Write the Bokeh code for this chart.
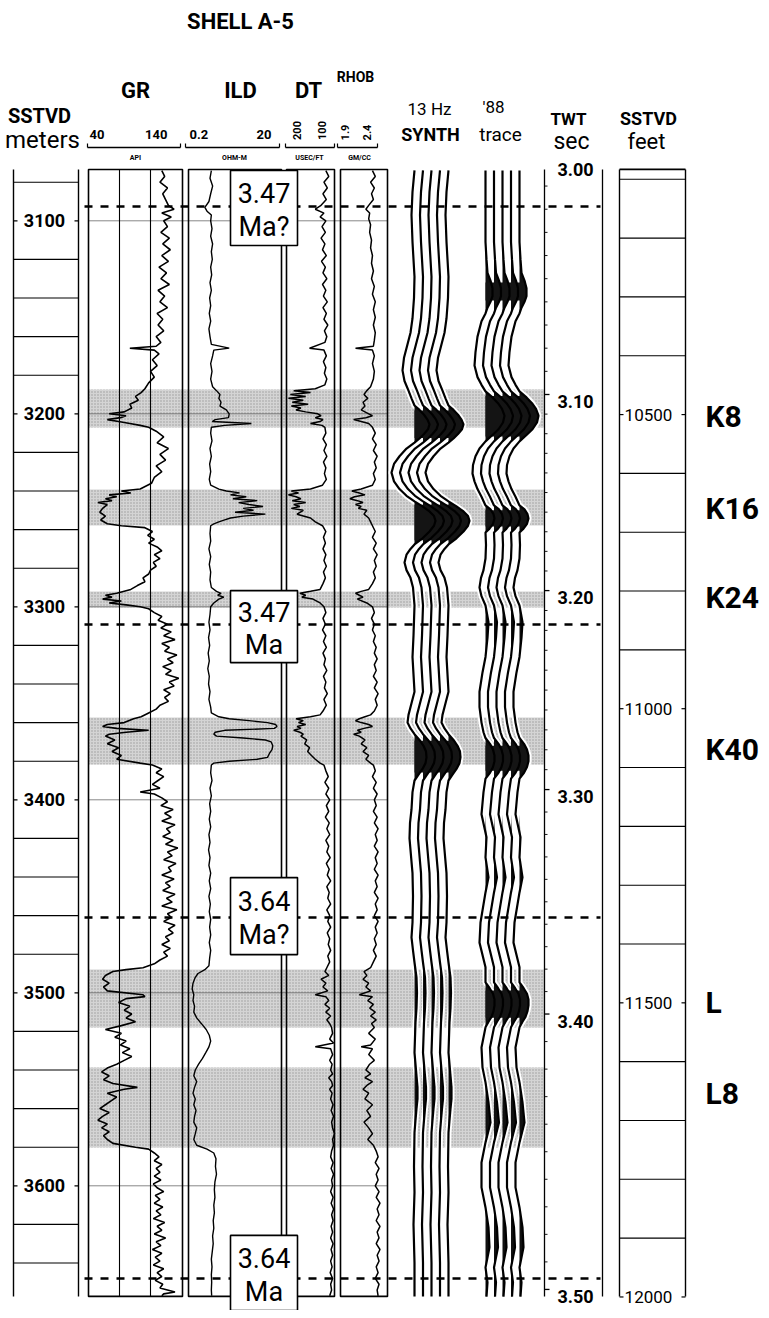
import numpy as np
from bokeh.plotting import figure
from bokeh.models import Range1d
from bokeh.core.properties import value
from bokeh.embed import file_html
from bokeh.resources import INLINE

# ---------------------------------------------------------------- data
GR_LOG = [
    (3074,118),(3077,121),(3080,116),(3083,124),(3086,119),(3089,122),(3092,125),(3094,131),(3096,118),(3098,128),
    (3100,120),(3103,124),(3106,117),(3109,126),(3112,119),(3115,127),(3118,118),(3121,125),(3124,115),(3127,123),
    (3130,117),(3133,126),(3136,114),(3139,121),(3142,116),(3145,124),(3148,113),(3151,119),(3154,114),(3157,120),
    (3160,112),(3163,117),(3165,112),(3166,84),(3167,110),(3169,115),(3172,108),(3175,113),(3178,106),(3181,110),
    (3184,104),(3187,100),(3189,96),(3191,90),(3193,93),(3195,84),(3197,86),(3199,78),(3200,62),(3201,80),
    (3202,74),(3203,60),(3204,72),(3205,84),(3206,95),(3207,104),(3209,112),(3212,120),(3215,113),(3218,125),
    (3221,116),(3224,122),(3227,112),(3230,118),(3233,110),(3236,107),(3239,95),(3240,75),(3241,85),(3242,62),
    (3243,70),(3244,58),(3245,65),(3246,50),(3247,60),(3249,55),(3251,52),(3253,58),(3255,53),(3257,60),
    (3258,75),(3259,100),(3261,108),(3263,103),(3265,110),(3267,104),(3269,113),(3271,118),(3273,110),(3275,116),
    (3277,109),(3279,112),(3281,106),(3283,104),(3285,98),(3287,100),(3289,92),(3291,85),(3293,70),(3294,58),
    (3295,65),(3296,55),(3297,75),(3298,62),(3299,80),(3300,95),(3301,104),(3303,110),(3305,118),(3307,114),
    (3309,124),(3311,117),(3313,128),(3315,120),(3317,132),(3319,118),(3321,126),(3323,121),(3325,134),(3327,124),
    (3329,130),(3331,119),(3333,128),(3335,122),(3337,136),(3339,126),(3341,131),(3343,120),(3345,127),(3347,121),
    (3349,125),(3351,116),(3353,112),(3355,104),(3357,96),(3358,88),(3360,78),(3361,60),(3362,55),(3363,70),
    (3364,104),(3365,80),(3366,62),(3367,58),(3369,68),(3371,60),(3373,72),(3375,65),(3377,75),(3379,70),
    (3381,95),(3382,108),(3384,118),(3386,112),(3388,120),(3390,114),(3392,108),(3394,116),(3396,95),(3397,110),
    (3399,118),(3401,124),(3403,117),(3405,130),(3407,121),(3409,128),(3411,118),(3413,132),(3415,123),(3417,127),
    (3419,119),(3421,130),(3423,122),(3425,135),(3427,124),(3429,129),(3431,120),(3433,133),(3435,125),(3437,128),
    (3439,118),(3441,131),(3443,122),(3445,127),(3447,119),(3449,132),(3451,123),(3453,129),(3455,118),(3457,134),
    (3459,124),(3461,128),(3463,120),(3465,132),(3467,125),(3469,130),(3471,122),(3473,126),(3475,118),(3477,127),
    (3479,120),(3481,124),(3483,116),(3485,110),(3487,98),(3488,80),(3489,66),(3491,58),(3493,55),(3495,62),
    (3497,56),(3499,60),(3501,98),(3502,100),(3503,80),(3505,72),(3507,84),(3509,78),(3511,86),(3513,80),
    (3515,90),(3517,75),(3519,58),(3521,75),(3523,68),(3525,80),(3527,74),(3529,84),(3531,76),(3533,86),
    (3535,78),(3537,70),(3539,60),(3541,54),(3543,62),(3545,56),(3547,66),(3549,92),(3550,78),(3552,60),
    (3554,70),(3556,64),(3558,58),(3560,52),(3562,62),(3564,55),(3566,50),(3568,60),(3570,54),(3572,62),
    (3574,56),(3576,60),(3578,66),(3580,90),(3581,104),(3583,110),(3585,115),(3587,110),(3589,118),(3591,112),
    (3593,116),(3595,110),(3597,117),(3599,109),(3601,113),(3603,120),(3605,111),(3607,116),(3609,110),(3611,119),
    (3613,112),(3615,117),(3617,109),(3619,121),(3621,113),(3623,118),(3625,110),(3627,122),(3629,112),(3631,117),
    (3633,108),(3635,118),(3637,111),(3639,116),(3641,109),(3643,120),(3645,113),(3647,118),(3649,111),(3651,119),
    (3653,116),(3655,132),(3656,120),(3657,118)]

ILD_LOG = [
    (3074,0.62),(3078,0.58),(3082,0.66),(3086,0.6),(3090,0.55),(3093,0.45),(3095,0.5),(3097,0.62),(3100,0.6),(3104,0.64),
    (3108,0.6),(3112,0.66),(3116,0.62),(3120,0.65),(3124,0.6),(3128,0.63),(3132,0.58),(3136,0.62),(3140,0.57),(3144,0.6),
    (3148,0.56),(3152,0.6),(3156,0.55),(3160,0.58),(3164,0.62),(3166,1.5),(3167,0.7),(3170,0.66),(3174,0.6),(3178,0.64),
    (3182,0.6),(3186,0.66),(3188,0.8),(3190,0.95),(3192,0.9),(3194,1.0),(3196,0.95),(3198,1.3),(3200,1.5),(3202,1.45),
    (3203,0.75),(3204,0.65),(3205,4.5),(3206,1.2),(3207,0.62),(3210,0.6),(3214,0.64),(3218,0.58),(3222,0.62),(3226,0.57),
    (3230,0.6),(3234,0.56),(3237,0.6),(3239,0.9),(3240,1.3),(3241,2.5),(3242,1.6),(3243,3.5),(3244,1.8),(3245,6),
    (3246,2.4),(3247,4),(3248,8),(3249,3),(3250,5),(3251,2),(3252,9),(3253,3),(3254,1.6),(3255,1.2),
    (3256,0.9),(3257,0.7),(3258,0.6),(3262,0.58),(3266,0.6),(3270,0.55),(3274,0.6),(3278,0.56),(3282,0.6),(3286,0.58),
    (3290,0.62),(3292,0.8),(3293,1.0),(3294,0.85),(3295,1.15),(3296,0.9),(3298,0.7),(3300,0.6),(3304,0.58),(3308,0.55),
    (3312,0.58),(3316,0.54),(3320,0.57),(3324,0.53),(3328,0.56),(3332,0.52),(3336,0.56),(3340,0.54),(3344,0.58),(3348,0.55),
    (3352,0.6),(3355,0.62),(3357,0.9),(3358,1.5),(3359,4),(3360,10),(3361,15),(3362,16),(3363,14),(3364,1.2),
    (3365,0.75),(3366,0.7),(3367,0.8),(3368,3),(3369,9),(3370,12),(3372,13),(3374,12.5),(3376,11),(3378,10),
    (3379,6),(3380,1.5),(3381,0.7),(3382,0.62),(3386,0.6),(3390,0.64),(3394,0.58),(3398,0.62),(3402,0.57),(3406,0.6),
    (3410,0.56),(3414,0.6),(3418,0.55),(3422,0.58),(3426,0.54),(3430,0.58),(3434,0.55),(3438,0.6),(3442,0.56),(3446,0.6),
    (3450,0.55),(3454,0.59),(3458,0.56),(3462,0.6),(3466,0.57),(3470,0.6),(3474,0.56),(3478,0.6),(3482,0.57),(3486,0.55),
    (3488,0.45),(3490,0.32),(3492,0.28),(3495,0.25),(3498,0.24),(3501,0.26),(3504,0.25),(3507,0.27),(3510,0.26),(3513,0.3),
    (3516,0.38),(3519,0.48),(3522,0.56),(3525,0.6),(3528,0.55),(3531,0.47),(3534,0.4),(3537,0.33),(3540,0.28),(3543,0.26),
    (3546,0.3),(3549,0.27),(3552,0.25),(3555,0.28),(3558,0.26),(3561,0.29),(3564,0.27),(3567,0.26),(3570,0.3),(3573,0.28),
    (3576,0.26),(3579,0.3),(3581,0.5),(3583,0.7),(3586,0.78),(3590,0.76),(3594,0.8),(3598,0.74),(3602,0.72),(3606,0.74),
    (3610,0.7),(3614,0.72),(3618,0.68),(3622,0.7),(3626,0.66),(3630,0.68),(3634,0.65),(3638,0.62),(3642,0.64),(3646,0.62),
    (3650,0.63),(3654,0.62),(3657,0.63)]

DT_LOG = [
    (3074,118),(3077,112),(3080,122),(3083,115),(3086,124),(3089,117),(3092,128),(3094,140),(3096,122),(3098,130),
    (3100,118),(3103,126),(3106,119),(3109,128),(3112,120),(3115,125),(3118,117),(3121,127),(3124,119),(3127,124),
    (3130,116),(3133,125),(3136,118),(3139,123),(3142,115),(3145,124),(3148,117),(3151,122),(3154,114),(3157,121),
    (3160,116),(3163,120),(3166,152),(3167,122),(3170,117),(3173,123),(3176,118),(3179,121),(3182,116),(3185,120),
    (3187,140),(3188,185),(3189,150),(3190,192),(3191,160),(3192,196),(3193,165),(3194,188),(3195,155),(3196,190),
    (3197,170),(3198,180),(3199,160),(3200,135),(3201,128),(3202,140),(3203,124),(3204,130),(3205,150),(3206,126),
    (3207,120),(3210,118),(3213,124),(3216,117),(3219,122),(3222,116),(3225,123),(3228,118),(3231,121),(3234,117),
    (3237,125),(3239,150),(3240,190),(3241,175),(3242,196),(3243,180),(3244,170),(3245,188),(3246,160),(3247,185),
    (3248,172),(3249,190),(3250,165),(3252,178),(3254,150),(3256,140),(3258,125),(3261,118),(3264,123),(3267,119),
    (3270,124),(3273,118),(3276,122),(3279,117),(3282,123),(3285,119),(3288,124),(3291,130),(3292,150),(3293,172),
    (3294,160),(3295,168),(3296,145),(3298,130),(3300,122),(3303,118),(3306,124),(3309,119),(3312,125),(3315,118),
    (3318,123),(3321,117),(3324,124),(3327,119),(3330,122),(3333,116),(3336,123),(3339,118),(3342,121),(3345,115),
    (3348,122),(3351,117),(3354,124),(3356,130),(3357,150),(3358,180),(3359,165),(3360,175),(3361,160),(3362,178),
    (3363,170),(3364,185),(3365,172),(3366,165),(3367,170),(3369,158),(3371,162),(3373,152),(3375,156),(3377,148),
    (3379,140),(3381,130),(3382,122),(3385,118),(3388,113),(3391,120),(3394,112),(3397,118),(3400,110),(3403,117),
    (3406,112),(3409,119),(3412,111),(3415,116),(3418,110),(3421,118),(3424,112),(3427,116),(3430,109),(3433,117),
    (3436,111),(3439,115),(3442,108),(3445,116),(3448,111),(3451,114),(3454,108),(3457,116),(3460,110),(3463,114),
    (3466,108),(3469,115),(3472,110),(3475,113),(3478,108),(3481,114),(3484,110),(3487,116),(3489,120),(3491,112),
    (3493,128),(3495,118),(3497,124),(3499,114),(3501,140),(3502,118),(3504,112),(3506,120),(3508,110),(3510,118),
    (3512,108),(3514,116),(3516,110),(3518,106),(3521,104),(3524,110),(3526,102),(3528,140),(3529,108),(3532,104),
    (3535,110),(3537,105),(3540,108),(3542,104),(3544,112),(3546,106),(3548,104),(3550,110),(3552,105),(3555,108),
    (3558,103),(3561,107),(3564,102),(3567,106),(3570,104),(3573,100),(3576,104),(3579,102),(3582,106),(3585,108),
    (3588,103),(3591,107),(3594,102),(3597,106),(3600,104),(3603,108),(3606,103),(3609,107),(3612,102),(3615,106),
    (3618,103),(3621,107),(3624,104),(3627,108),(3630,103),(3633,107),(3636,104),(3639,108),(3642,105),(3645,109),
    (3648,104),(3651,108),(3654,106),(3657,110)]

RHOB_LOG = [
    (3074,2.24),(3077,2.27),(3080,2.22),(3083,2.26),(3086,2.23),(3089,2.25),(3092,2.2),(3094,2.17),(3096,2.21),(3099,2.2),
    (3102,2.22),(3106,2.21),(3110,2.23),(3114,2.22),(3118,2.24),(3122,2.23),(3126,2.25),(3130,2.23),(3134,2.26),(3138,2.24),
    (3142,2.27),(3146,2.25),(3150,2.27),(3154,2.25),(3158,2.27),(3162,2.26),(3165,2.25),(3166,2.06),(3167,2.24),(3170,2.26),
    (3174,2.24),(3178,2.26),(3182,2.25),(3186,2.22),(3188,2.18),(3190,2.15),(3192,2.19),(3194,2.14),(3196,2.16),(3198,2.12),
    (3200,2.2),(3201,2.24),(3202,2.17),(3203,2.04),(3204,2.12),(3205,2.2),(3207,2.24),(3210,2.27),(3213,2.24),(3216,2.28),
    (3219,2.25),(3222,2.29),(3225,2.26),(3228,2.28),(3231,2.25),(3234,2.27),(3237,2.24),(3239,2.12),(3240,2.02),(3241,2.1),
    (3242,2.16),(3243,2.05),(3244,2.0),(3245,2.08),(3246,2.14),(3247,2.06),(3248,2.12),(3249,2.09),(3250,2.18),(3252,2.15),
    (3254,2.2),(3256,2.22),(3258,2.24),(3261,2.27),(3264,2.24),(3267,2.28),(3270,2.25),(3273,2.29),(3276,2.26),(3279,2.28),
    (3282,2.25),(3285,2.27),(3288,2.24),(3291,2.2),(3292,2.12),(3293,2.06),(3294,2.1),(3295,2.14),(3296,2.08),(3298,2.18),
    (3300,2.24),(3303,2.26),(3306,2.23),(3309,2.26),(3312,2.24),(3315,2.27),(3318,2.25),(3321,2.28),(3324,2.26),(3327,2.29),
    (3330,2.26),(3333,2.28),(3336,2.25),(3339,2.29),(3342,2.26),(3345,2.3),(3348,2.27),(3351,2.29),(3354,2.26),(3356,2.22),
    (3357,2.16),(3358,2.1),(3359,2.06),(3360,2.12),(3361,2.2),(3362,2.24),(3363,2.15),(3364,2.08),(3365,2.12),(3366,2.04),
    (3367,2.1),(3369,2.16),(3371,2.12),(3373,2.18),(3375,2.14),(3377,2.2),(3379,2.17),(3381,2.22),(3382,2.25),(3385,2.27),
    (3388,2.24),(3391,2.28),(3394,2.25),(3397,2.29),(3400,2.26),(3403,2.28),(3406,2.25),(3409,2.29),(3412,2.26),(3415,2.3),
    (3418,2.27),(3421,2.29),(3424,2.26),(3427,2.3),(3430,2.27),(3433,2.29),(3436,2.26),(3439,2.3),(3442,2.27),(3445,2.29),
    (3448,2.26),(3451,2.3),(3454,2.27),(3457,2.29),(3460,2.26),(3463,2.3),(3466,2.27),(3469,2.29),(3472,2.26),(3475,2.28),
    (3478,2.25),(3481,2.28),(3484,2.25),(3487,2.22),(3489,2.15),(3491,2.18),(3493,2.14),(3495,2.2),(3497,2.17),(3499,2.22),
    (3501,2.1),(3502,2.24),(3504,2.19),(3506,2.25),(3508,2.21),(3510,2.27),(3512,2.22),(3514,2.28),(3516,2.23),(3518,2.26),
    (3521,2.2),(3524,2.27),(3527,2.22),(3528,2.12),(3529,2.24),(3532,2.2),(3535,2.26),(3537,2.21),(3540,2.17),(3542,2.22),
    (3544,2.16),(3546,2.24),(3548,2.18),(3550,2.14),(3552,2.2),(3555,2.16),(3558,2.24),(3561,2.18),(3564,2.22),(3567,2.15),
    (3570,2.2),(3573,2.24),(3576,2.19),(3579,2.25),(3582,2.28),(3585,2.3),(3588,2.27),(3591,2.31),(3594,2.28),(3597,2.3),
    (3600,2.27),(3603,2.31),(3606,2.28),(3609,2.32),(3612,2.29),(3615,2.31),(3618,2.28),(3621,2.32),(3624,2.29),(3627,2.31),
    (3630,2.28),(3633,2.32),(3636,2.29),(3639,2.31),(3642,2.28),(3645,2.3),(3648,2.27),(3651,2.31),(3654,2.29),(3657,2.3)]

# 13 Hz synthetic trace: depth (m) and deflection (px of trace spacing)
SYN_DEPTH = [3073.9, 3085, 3097, 3111, 3129, 3140, 3150.6, 3158, 3165, 3171, 3177.5, 3183, 3188, 3192, 3195.7,
             3198, 3200.5, 3203, 3205.5, 3208, 3210.5, 3212.8, 3214.9,
             3218, 3222, 3226, 3230.5, 3235, 3239, 3242.5, 3245.4,
             3248, 3250.6, 3253, 3255.5, 3258, 3261, 3264.5, 3267.7,
             3270, 3273, 3277, 3281, 3285, 3290, 3299.3, 3315, 3326, 3335, 3344, 3350, 3356, 3360, 3363, 3366,
             3369, 3372, 3375, 3378, 3381, 3384, 3387, 3390,
             3396, 3405, 3412, 3420, 3426, 3432, 3438, 3450, 3463.6, 3471.3, 3478, 3484.3, 3492, 3500, 3508,
             3515.4, 3523, 3531, 3540, 3549, 3555, 3560, 3566, 3572.4, 3590, 3603.5, 3620, 3640, 3657.4]
SYN_AMP = [0, -2, -3, -2, 0, -0.5, -2, -4, -7.5, -10.5, -12, -10, -6, -3, 0,
           5, 9.5, 13, 15, 13.5, 9.5, 5, 0,
           -8, -15, -20.5, -23, -20.5, -15, -8, 0,
           8, 15, 19.5, 21, 19.5, 15, 8, 0,
           -4, -8, -10, -8, -4, -1.5, 0, -1, -2, -1, 0, -3, -6, -7, -4, 0,
           5, 9, 11.5, 12, 11, 8, 4, 0,
           -2, -3, -4.5, -5, -4, -3, -2, -1.5, -2, -3, -1.5, 0, 2, 2.5, 2,
           1, 0.5, 0, 1.5, 3, 3, 2, 1, 0, -0.5, 0, -1, 0, 0]

# '88 seismic trace
TRC_DEPTH = [3074, 3097, 3111, 3120, 3127, 3131, 3135, 3139, 3142, 3145, 3148, 3152, 3160, 3168, 3175, 3181, 3185, 3188.4,
             3191.5, 3194.5, 3197.5, 3201, 3204.5, 3208, 3211, 3214.3,
             3218, 3222, 3226.5, 3231, 3235, 3239, 3243, 3247.5,
             3249.5, 3252, 3254.2, 3257, 3259.5, 3261.5, 3268, 3275,
             3281, 3285, 3290, 3294.5, 3299.3, 3308, 3316, 3326, 3334, 3344, 3352, 3360, 3365, 3368,
             3371, 3374, 3377, 3380, 3383, 3386, 3389,
             3396, 3407.5, 3419.4, 3429.8, 3440.2, 3448, 3463.6, 3474, 3486.8,
             3494.6, 3497.5, 3500.5, 3503.5, 3506.5, 3509.5, 3512.5, 3515, 3517.9,
             3528.3, 3538.7, 3546.4, 3556.8, 3567.2, 3577.5, 3587.9, 3600.8, 3611.2, 3621.5, 3631.9, 3642.3, 3650, 3657.4]
TRC_AMP = [0, 0, 0, 1, 2, 5, 7, 7, 5, 2, 0, -4, -8, -10, -11, -8, -4, 0,
           7, 12.5, 16.5, 19, 17.5, 13, 7, 0,
           -6, -10, -12.5, -13, -11, -8, -4, 0,
           5, 8, 9, 7.5, 4, 0, 0.5, 0,
           -2, -4.5, -6, -4, 0, 3, 2, 0, -3, -6, -6, -4, -2, 0,
           4.5, 7.5, 9, 9, 7.5, 4.5, 0,
           -2, -4, 1, 0, 3, 0, -5, -6, 0,
           0, 4, 7.5, 9, 9, 8, 6, 3, 0,
           -4, -3, 0, 3, 5, 0, -4, -4, 0, 3, 4, 0, 2, 1]

# shaded sand intervals (m) and horizon names
BAND_TOP = [3187.4, 3239.2, 3292.1, 3357.4, 3487.9, 3538.7]
BAND_BOT = [3207.1, 3257.9, 3300.4, 3381.7, 3518.0, 3580.2]
HORIZON_NAMES = ["K8", "K16", "K24", "K40", "L", "L8"]
HORIZON_DEPTH = [3201.5, 3249.0, 3295.0, 3374.0, 3505.0, 3552.0]

# age picks
MA_DEPTH = [3092.6, 3309.2, 3461.0, 3648.0]
MA_AGE = ["3.47", "3.47", "3.64", "3.64"]
MA_UNIT = ["Ma?", "Ma", "Ma?", "Ma"]

# time-depth ticks
TWT_SEC = [3.00, 3.10, 3.20, 3.30, 3.40, 3.50]
TWT_DEPTH = [3070.0, 3190.0, 3291.6, 3394.7, 3511.0, 3653.7]

METER_LABELS = [3100, 3200, 3300, 3400, 3500, 3600]
FEET_LABELS = [10500, 11000, 11500, 12000]

# ---------------------------------------------------------------- layout
PAGE_W, PAGE_H = 769, 1318
PX_PER_M = 1.93
Y3100 = 228.3
D_TOP = 3100 - (Y3100 - 8) / PX_PER_M
D_BOT = 3100 + (PAGE_H - Y3100) / PX_PER_M
TRACK_TOP, TRACK_BOT = 3073.4, 3657.3

FONT = value("Roboto")

p = figure(width=761, height=1310, x_range=Range1d(8, PAGE_W), y_range=Range1d(D_BOT, D_TOP),
           x_axis_type=None, y_axis_type=None, toolbar_location=None, output_backend="svg",
           min_border=0)
p.outline_line_color = None
p.background_fill_color = "white"


def track_range(v0, v1, a, b):
    k = (v1 - v0) / (b - a)
    return Range1d(start=v0 - (a - 8) * k, end=v0 + (PAGE_W - a) * k)


SYN_BASE, TRC_BASE, TR_SP = 422, 493, 8.5
p.extra_x_ranges = {
    "gr": track_range(40, 140, 96, 190),
    "ild": track_range(np.log10(0.2), np.log10(20), 196, 289),
    "dt": track_range(200, 100, 294, 342),
    "rhob": track_range(1.9, 2.4, 348, 395),
    "syn": track_range(0, 1, SYN_BASE, SYN_BASE + 1),
    "trc": track_range(0, 1, TRC_BASE, TRC_BASE + 1),
}
p.extra_y_ranges = {"page": Range1d(PAGE_H, 8)}

# sand bands
p.quad(left=96, right=552, top=BAND_TOP, bottom=BAND_BOT, fill_color="#d4d4d4", line_color=None,
       hatch_pattern="dot", hatch_color="#9a9a9a", hatch_scale=3, hatch_weight=0.7)

# 100 m grid lines across the log tracks
p.segment(x0=96, x1=395, y0=METER_LABELS, y1=METER_LABELS, line_color="#555555", line_width=0.7)

# log track boxes
p.quad(left=[96, 196, 294, 348], right=[190, 289, 342, 395], top=TRACK_TOP, bottom=TRACK_BOT,
       fill_color=None, line_color="black", line_width=1.6)
p.segment(x0=[127, 158], x1=[127, 158], y0=TRACK_TOP, y1=TRACK_BOT, line_color="black", line_width=1.1)

# curves
gd, gv = zip(*GR_LOG)
p.line(x=list(gv), y=list(gd), x_range_name="gr", line_color="black", line_width=1.6)
idp, iv = zip(*ILD_LOG)
p.line(x=list(np.log10(iv)), y=list(idp), x_range_name="ild", line_color="black", line_width=1.4)
dd, dv = zip(*DT_LOG)
p.line(x=list(dv), y=list(dd), x_range_name="dt", line_color="black", line_width=1.5)
rd, rv = zip(*RHOB_LOG)
p.line(x=list(rv), y=list(rd), x_range_name="rhob", line_color="black", line_width=1.5)

# depth column (meters)
meter_lines = [d for d in range(3080, 3660, 20) if d % 100 != 0]
p.segment(x0=[21, 86], x1=[21, 86], y0=TRACK_TOP, y1=TRACK_BOT, line_color="black", line_width=1.4)
p.segment(x0=21, x1=86, y0=meter_lines, y1=meter_lines, line_color="black", line_width=1.1)
p.segment(x0=21, x1=25, y0=METER_LABELS, y1=METER_LABELS, line_color="black", line_width=1.2)
p.segment(x0=82, x1=86, y0=METER_LABELS, y1=METER_LABELS, line_color="black", line_width=1.2)
p.text(x=52, y=METER_LABELS, text=[str(m) for m in METER_LABELS], text_font=FONT,
       text_font_size="18px", text_font_style="bold", text_align="center", text_baseline="middle")

# TWT column with minor ticks every 0.01 s along the time-depth relation
p.segment(x0=[552, 610], x1=[552, 610], y0=TRACK_TOP, y1=TRACK_BOT, line_color="black", line_width=1.3)
minor_t = [t for t in np.arange(3.01, 3.50, 0.01) if abs(round(t * 10) - t * 10) > 1e-6]
minor_d = list(np.interp(minor_t, TWT_SEC, TWT_DEPTH))
p.segment(x0=552, x1=555, y0=minor_d, y1=minor_d, line_color="black", line_width=0.9)
p.segment(x0=552, x1=557, y0=TWT_DEPTH[1:], y1=TWT_DEPTH[1:], line_color="black", line_width=1.3)
p.text(x=583, y=TWT_DEPTH, text=["%.2f" % t for t in TWT_SEC], text_font=FONT, text_font_size="18px",
       text_font_style="bold", text_align="center", text_baseline="middle", y_offset=7)

# feet column
feet_lines = [f * 0.3048 for f in range(10100, 12000, 100) if f % 500 != 0]
feet_lab_m = [f * 0.3048 for f in FEET_LABELS]
p.segment(x0=[627, 693], x1=[627, 693], y0=TRACK_TOP, y1=TRACK_BOT, line_color="black", line_width=1.4)
p.segment(x0=627, x1=693, y0=TRACK_TOP, y1=TRACK_TOP, line_color="black", line_width=1.8)
p.segment(x0=627, x1=693, y0=feet_lines, y1=feet_lines, line_color="black", line_width=1.1)
p.segment(x0=627, x1=631, y0=feet_lab_m, y1=feet_lab_m, line_color="black", line_width=1.2)
p.segment(x0=689, x1=693, y0=feet_lab_m, y1=feet_lab_m, line_color="black", line_width=1.2)
p.text(x=656, y=feet_lab_m, text=[str(f) for f in FEET_LABELS], text_font=FONT, text_font_size="17px",
       text_align="center", text_baseline="middle")


# seismic wiggle traces (variable area)
def lobe_outline(dep, amp, thr, width):
    """Outline of the merged black lobes where the deflection exceeds thr."""
    xs, ys = [], []
    for k in range(len(dep)):
        on = amp[k] > thr
        xs.append(width + amp[k] if on else 0.0)
        ys.append(dep[k])
        if k + 1 < len(dep) and on != (amp[k + 1] > thr):
            dc = dep[k] + (thr - amp[k]) * (dep[k + 1] - dep[k]) / (amp[k + 1] - amp[k])
            if on:
                xs += [width + thr, 0.0]
            else:
                xs += [0.0, width + thr]
            ys += [dc, dc]
    return xs, ys


for name, dep, amp, base in (("syn", SYN_DEPTH, SYN_AMP, SYN_BASE), ("trc", TRC_DEPTH, TRC_AMP, TRC_BASE)):
    amp = np.array(amp, dtype=float)
    for i in range(5):
        off = i * TR_SP
        p.line(x=list(off + amp), y=dep, x_range_name=name, line_color="white", line_width=6)
    for i in range(5):
        off = i * TR_SP
        p.harea(x1=[off] * len(dep), x2=list(off + np.maximum(amp, 0)), y=dep, x_range_name=name,
                fill_color="#111111")
    lx, ly = lobe_outline(dep, amp, 5.5, 4 * TR_SP)
    p.harea(x1=[0.0] * len(lx), x2=lx, y=ly, x_range_name=name, fill_color="#141414")
    for i in range(5):
        off = i * TR_SP
        p.line(x=list(off + amp), y=dep, x_range_name=name, line_color="black", line_width=2.2)

# age pick dashed lines
p.segment(x0=92, x1=608, y0=MA_DEPTH, y1=MA_DEPTH, line_color="black", line_width=2.6, line_dash="8 8")

# age boxes
MA_BOX_TOP = [3073.9, 3291.6, 3440.3, 3625.7]
MA_BOX_BOT = [3112.8, 3328.9, 3480.2, 3664.6]
p.quad(left=238, right=305, top=MA_BOX_TOP, bottom=MA_BOX_BOT, fill_color="white", line_color="black",
       line_width=1.6)
l1 = [t + 0.3 * (b - t) for t, b in zip(MA_BOX_TOP, MA_BOX_BOT)]
l2 = [t + 0.75 * (b - t) for t, b in zip(MA_BOX_TOP, MA_BOX_BOT)]
p.text(x=271.5, y=l1, text=MA_AGE, text_font=FONT, text_font_size="27px", text_align="center",
       text_baseline="middle")
p.text(x=271.5, y=l2, text=MA_UNIT, text_font=FONT, text_font_size="27px", text_align="center",
       text_baseline="middle")

# horizon names
p.text(x=713, y=HORIZON_DEPTH, text=HORIZON_NAMES, text_font=FONT, text_font_size="30px",
       text_font_style="bold", text_align="left", text_baseline="middle")


# ---------------------------------------------------------------- header (page coordinates)
def hdr(x, y, s, size, style="bold", align="center", angle=0.0, baseline="middle"):
    p.text(x=[x], y=[y], text=[s], y_range_name="page", text_font=FONT, text_font_size=size,
           text_font_style=style, text_align=align, text_baseline=baseline, angle=angle)


hdr(248, 29, "SHELL A-5", "22px")
hdr(143, 98, "GR", "22px")
hdr(248, 98, "ILD", "22px")
hdr(316, 98, "DT", "22px")
hdr(363, 84, "RHOB", "14px")
hdr(47, 123, "SSTVD", "20px")
hdr(50, 147, "meters", "24px", style="normal")
hdr(437, 116, "13 Hz", "17px", style="normal")
hdr(438, 142, "SYNTH", "18px")
hdr(501, 114, "'88", "17px", style="normal")
hdr(508, 142, "trace", "19px", style="normal")
hdr(576, 126, "TWT", "17px")
hdr(579, 149, "sec", "23px", style="normal")
hdr(656, 126, "SSTVD", "18px")
hdr(654, 149, "feet", "22px", style="normal")

# scales
hdr(97, 146, "40", "13px", align="left", baseline="bottom")
hdr(175, 146, "140", "13px", align="right", baseline="bottom")
hdr(197, 146, "0.2", "13px", align="left", baseline="bottom")
hdr(279, 146, "20", "13px", align="right", baseline="bottom")
hdr(304, 138, "200", "11px", angle=np.pi / 2)
hdr(329, 138, "100", "11px", angle=np.pi / 2)
hdr(352, 140, "1.9", "11px", angle=np.pi / 2)
hdr(374, 140, "2.4", "11px", angle=np.pi / 2)
p.segment(x0=[95, 193, 293, 345], x1=[188, 287, 342, 385], y0=155, y1=155, y_range_name="page",
          line_color="black", line_width=1.3)
p.segment(x0=[95, 188, 193, 287, 293, 342, 345, 385], x1=[95, 188, 193, 287, 293, 342, 345, 385],
          y0=151, y1=155, y_range_name="page", line_color="black", line_width=1.2)
hdr(143, 165, "API", "7px")
hdr(242, 165, "OHM-M", "7px")
hdr(317, 165, "USEC/FT", "7px")
hdr(367, 165, "GM/CC", "7px")

open("out.html", "w").write(file_html(p, INLINE))
